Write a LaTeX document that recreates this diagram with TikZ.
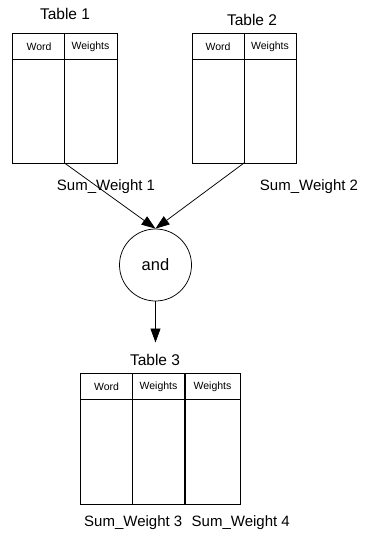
\documentclass[tikz,border=0pt]{standalone}
\usepackage{fontspec}
\setmainfont{Liberation Sans}
\usetikzlibrary{arrows.meta}
\tikzset{
  frame/.style={draw, line width=0.75pt, inner sep=0pt, outer sep=0pt},
  titletext/.style={font=\fontsize{15.5}{18}\selectfont, inner sep=0pt},
  headtext/.style={font=\fontsize{10.5}{12}\selectfont, inner sep=0pt},
  sumtext/.style={font=\fontsize{15}{18}\selectfont, inner sep=0pt},
  rule/.style={line width=0.75pt},
  flow/.style={line width=0.75pt, -{Triangle[length=14pt, width=10pt]}, shorten >=0pt},
}
\begin{document}
\begin{tikzpicture}[x=1pt, y=-1pt]
  \useasboundingbox (0,0) rectangle (366,540);

  % Table 1
  \node[frame, minimum width=105pt, minimum height=130pt] (t1) at (64.5,98) {};
  \draw[rule] (12,59.5) -- (117,59.5);
  \draw[rule] (64.5,33) coordinate (t1top) -- (64.5,163) coordinate (t1out);
  \node[titletext] (t1title) at (65,14) {Table 1};
  \node[headtext] (t1word) at (39,46.5) {Word};
  \node[headtext] (t1wts) at (90.5,46.5) {Weights};
  \node[sumtext] (sum1) at (106,187) {Sum\_Weight 1};

  % Table 2
  \node[frame, minimum width=104pt, minimum height=130pt] (t2) at (244,98) {};
  \draw[rule] (192,59.5) -- (296,59.5);
  \draw[rule] (244,33) coordinate (t2top) -- (244,163) coordinate (t2out);
  \node[titletext] (t2title) at (252,20) {Table 2};
  \node[headtext] (t2word) at (218,46.5) {Word};
  \node[headtext] (t2wts) at (270,46.5) {Weights};
  \node[sumtext] (sum2) at (309,187) {Sum\_Weight 2};

  % join operator
  \node[draw, circle, line width=0.75pt, minimum size=72pt, inner sep=0pt,
        font=\fontsize{16.5}{19}\selectfont] (and) at (155.5,265) {and};
  \draw[flow] (t1out) -- (and.north);
  \draw[flow] (t2out) -- (and.north);
  \coordinate (down) at (155.5,342.5);
  \draw[flow] (and.south) -- (down);

  % Table 3
  \node[titletext] (t3title) at (155,360) {Table 3};
  \node[frame, minimum width=160pt, minimum height=131pt] (t3) at (160,438.5) {};
  \draw[rule] (80,399.5) -- (240,399.5);
  \draw[rule] (132.5,373) -- (132.5,504);
  \draw[line width=1.6pt] (185,373) -- (185,504);
  \node[headtext] (t3word) at (106.5,386.5) {Word};
  \node[headtext] (t3wts) at (158.5,386.5) {Weights};
  \node[headtext] (t3wtsb) at (212.5,386.5) {Weights};
  \node[sumtext, anchor=west] (sum3) at (84,523) {Sum\_Weight 3};
  \node[sumtext, anchor=east] (sum4) at (290,523) {Sum\_Weight 4};
\end{tikzpicture}
\end{document}
